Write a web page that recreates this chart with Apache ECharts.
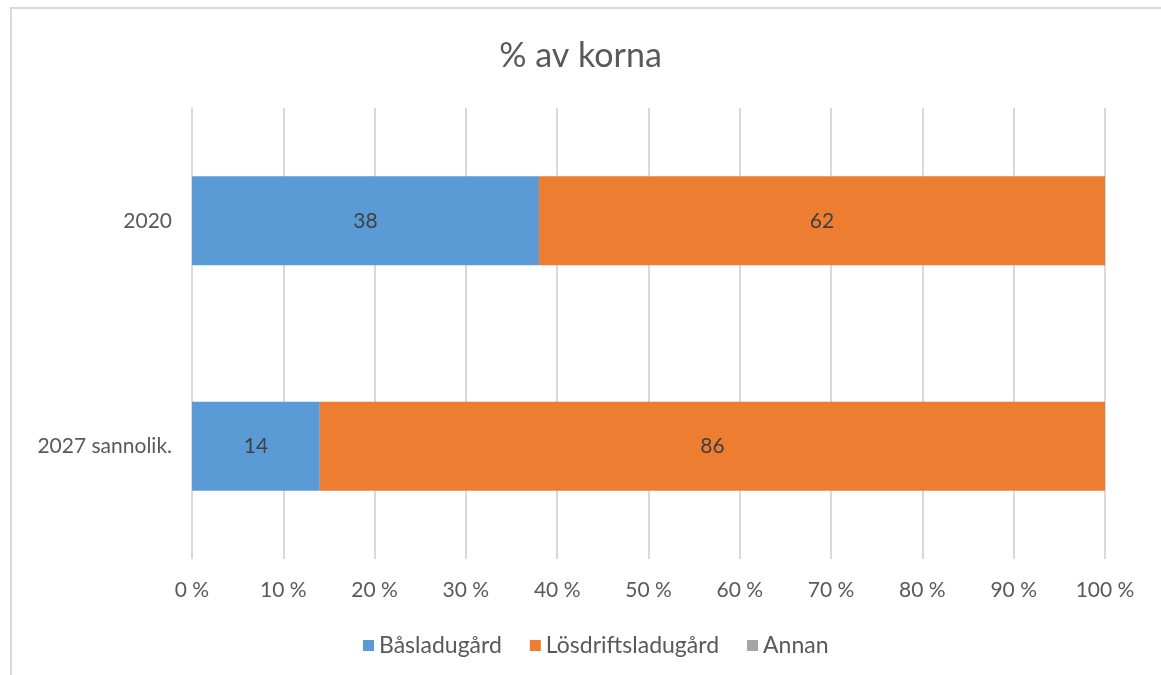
<!DOCTYPE html>
<html lang="sv">
<head>
	<meta charset="UTF-8">
	<title>% av korna</title>
	<script src="https://cdn.jsdelivr.net/npm/echarts@6/dist/echarts.min.js"></script>
	<style>
		html, body { margin: 0; padding: 0; background: #fff; }
		#chart { width: 1161px; height: 675px; }
	</style>
</head>
<body>
	<div id="chart"></div>
	<script>
		// data
		var categories = ['2020', '2027 sannolik.'];
		var seriesNames = ['Båsladugård', 'Lösdriftsladugård', 'Annan'];
		var basladugard = [38, 14];
		var losdrift = [62, 86];
		var annan = [0, 0];
		var xTicks = [0, 10, 20, 30, 40, 50, 60, 70, 80, 90, 100];

		var font = 'Lato, "Open Sans", sans-serif';
		var colors = ['#5b9bd5', '#ed7d31', '#a5a5a5'];

		var myChart = echarts.init(document.getElementById('chart'));

		function barSeries(name, data, color) {
			return {
				name: name,
				type: 'bar',
				stack: 'total',
				barWidth: 89,
				data: data,
				itemStyle: { color: color },
				label: {
					show: true,
					position: 'inside',
					color: '#404040',
					fontFamily: font,
					fontSize: 21,
					formatter: function (p) { return p.value ? p.value : ''; }
				}
			};
		}

		var option = {
			animation: false,
			color: colors,
			title: {
				text: '% av korna',
				left: 'center',
				top: 34,
				textStyle: { color: '#595959', fontFamily: font, fontSize: 34, fontWeight: 'normal' }
			},
			legend: {
				data: seriesNames,
				top: 629,
				left: 358,
				itemWidth: 11,
				itemHeight: 11,
				itemGap: 28,
				icon: 'rect',
				textStyle: { color: '#595959', fontFamily: font, fontSize: 23 }
			},
			grid: { left: 192, right: 56, top: 108, bottom: 116 },
			xAxis: {
				type: 'value',
				min: xTicks[0],
				max: xTicks[xTicks.length - 1],
				interval: 10,
				axisLine: { show: false },
				axisTick: { show: false },
				axisLabel: {
					color: '#595959', fontFamily: font, fontSize: 21, margin: 21,
					formatter: '{value} %'
				},
				splitLine: { lineStyle: { color: '#d9d9d9', width: 2 } }
			},
			yAxis: {
				type: 'category',
				data: categories,
				inverse: true,
				axisLine: { show: false },
				axisTick: { show: false },
				axisLabel: { color: '#595959', fontFamily: font, fontSize: 21, margin: 20 }
			},
			graphic: [{
				type: 'rect',
				silent: true,
				shape: { x: 11, y: 8, width: 1200, height: 700 },
				style: { fill: 'none', stroke: '#d9d9d9', lineWidth: 2 }
			}],
			series: [
				barSeries(seriesNames[0], basladugard, colors[0]),
				barSeries(seriesNames[1], losdrift, colors[1]),
				barSeries(seriesNames[2], annan, colors[2])
			]
		};
		myChart.setOption(option);
	</script>
</body>
</html>
